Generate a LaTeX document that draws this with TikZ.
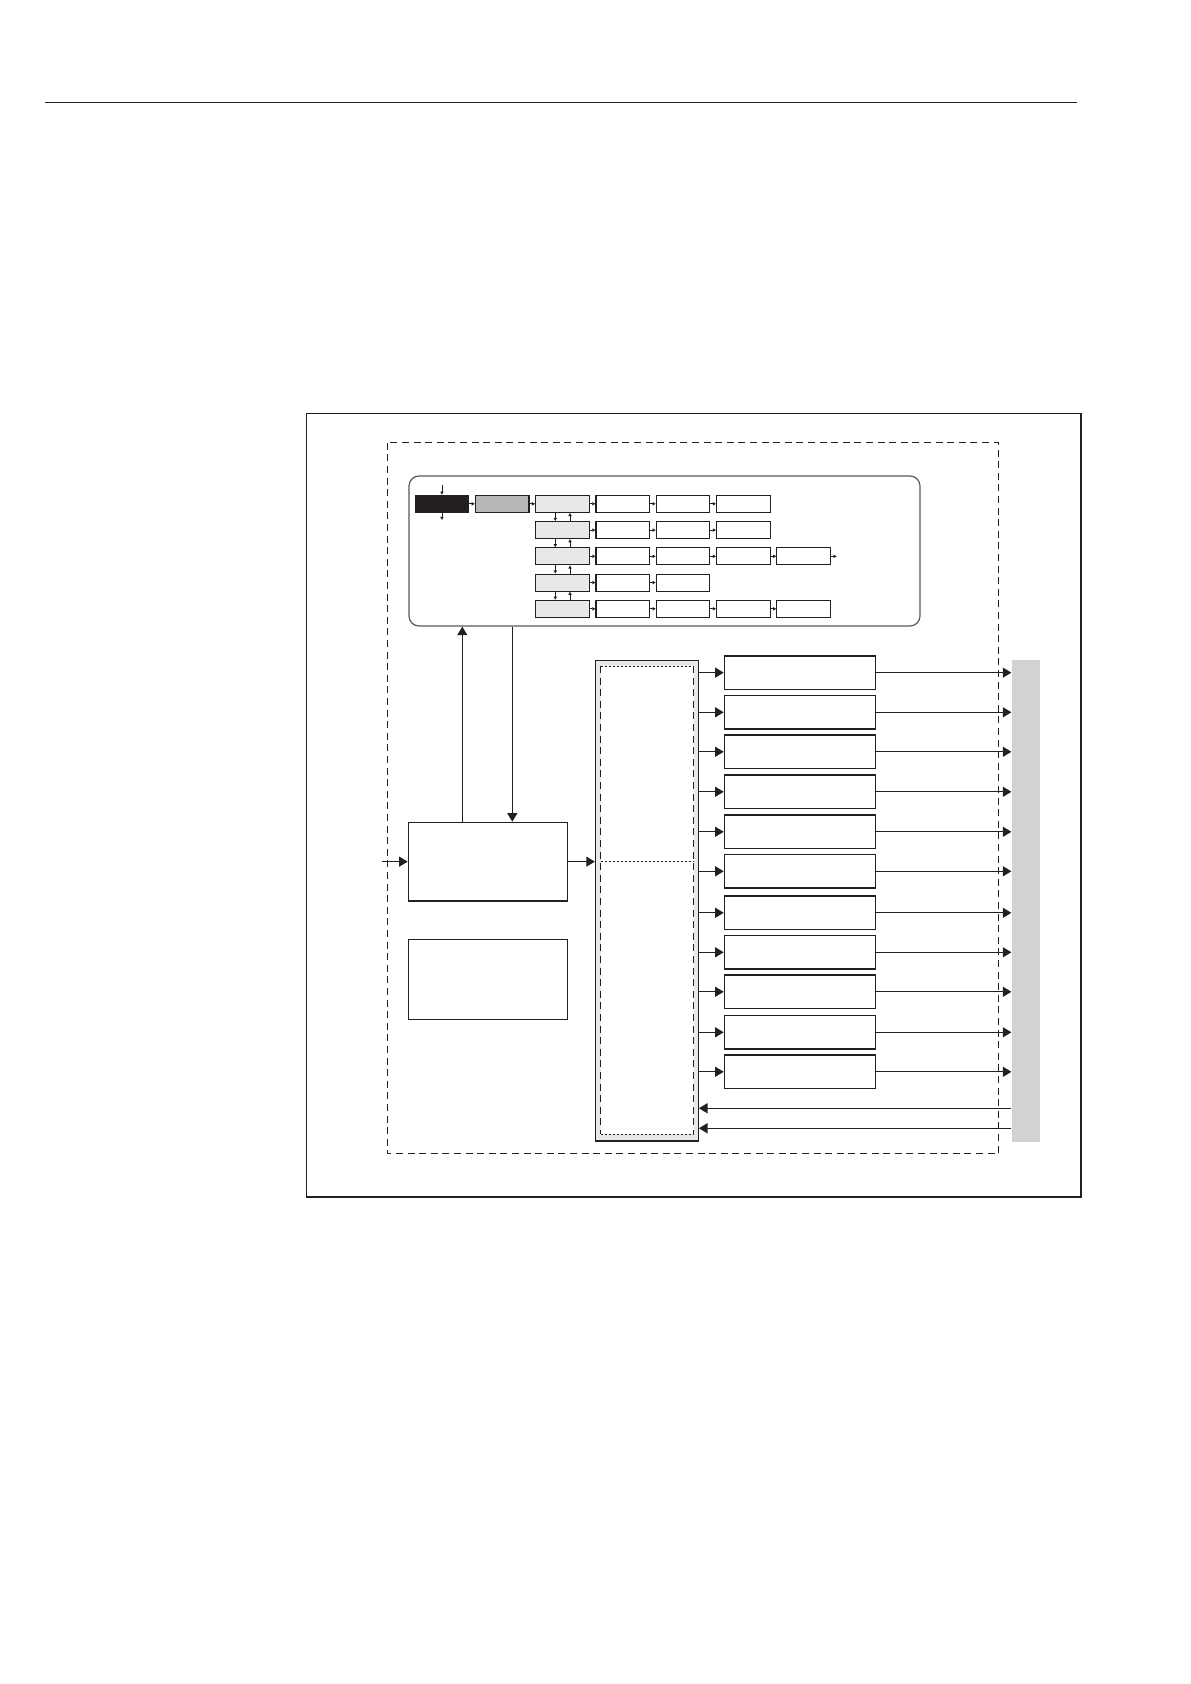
\documentclass[tikz,border=0pt]{standalone}
\usetikzlibrary{arrows.meta,calc}
\definecolor{ink}{HTML}{231F20}
\definecolor{lgray}{HTML}{E8E8E8}
\definecolor{mgray}{HTML}{B8B8B8}
\definecolor{bargray}{HTML}{D2D2D2}
\begin{document}
\begin{tikzpicture}[x=0.5pt,y=-0.5pt,line width=0.6pt,color=ink,
  sbox/.style={draw=ink,line width=0.55pt,inner sep=0,minimum width=26.8pt,minimum height=8.5pt},
  rbox/.style={draw=ink,line width=0.6pt,inner sep=0,minimum width=75.5pt,minimum height=16.75pt},
  bbox/.style={draw=ink,line width=0.6pt,inner sep=0,minimum width=79.7pt},
  arr/.style={-{Triangle[length=4.3pt,width=5pt]},draw=ink,line width=0.6pt},
  tarr/.style={-{Triangle[length=1.6pt,width=1.6pt]},draw=ink,line width=0.4pt},
  odash/.style={draw=ink,line width=0.5pt,dash pattern=on 3.5pt off 2.3pt},
  fdot/.style={draw=ink,line width=0.5pt,dash pattern=on 1pt off 1pt}]
\useasboundingbox (0,0) rectangle (1190,1684);
% header rule
\draw[line width=0.7pt] (45,102.3) -- (1076.7,102.3);
% outer frame
\draw[line width=0.7pt] (306.3,413.7) rectangle (1081,1197);
% dashed boundary
\draw[odash] (387.3,442.7) rectangle (998.3,1153.3);
% menu box
\node[draw=black!65,rounded corners=5pt,line width=0.6pt,inner sep=0,minimum width=255.5pt,minimum height=75pt] (menu) at (664.5,551) {};
% row 1
\node[sbox,fill=ink] (k) at (441.9,503.8) {};
\node[sbox,fill=mgray] (g) at (502.2,503.8) {};
\node[sbox,fill=lgray] (l1) at (562.5,503.8) {};
\node[sbox] (a1) at (622.8,503.8) {};
\node[sbox] (b1) at (683.1,503.8) {};
\node[sbox] (c1) at (743.4,503.8) {};
% row 2
\node[sbox,fill=lgray] (l2) at (562.5,530.05) {};
\node[sbox] (a2) at (622.8,530.05) {};
\node[sbox] (b2) at (683.1,530.05) {};
\node[sbox] (c2) at (743.4,530.05) {};
% row 3
\node[sbox,fill=lgray] (l3) at (562.5,556.3) {};
\node[sbox] (a3) at (622.8,556.3) {};
\node[sbox] (b3) at (683.1,556.3) {};
\node[sbox] (c3) at (743.4,556.3) {};
\node[sbox] (d3) at (803.7,556.3) {};
\coordinate (e3) at (836.7,556.3);
% row 4
\node[sbox,fill=lgray] (l4) at (562.5,582.55) {};
\node[sbox] (a4) at (622.8,582.55) {};
\node[sbox] (b4) at (683.1,582.55) {};
% row 5
\node[sbox,fill=lgray] (l5) at (562.5,608.8) {};
\node[sbox] (a5) at (622.8,608.8) {};
\node[sbox] (b5) at (683.1,608.8) {};
\node[sbox] (c5) at (743.4,608.8) {};
\node[sbox] (d5) at (803.7,608.8) {};
% horizontal small arrows
\foreach \u/\v in {k/g,g/l1,l1/a1,a1/b1,b1/c1,l2/a2,a2/b2,b2/c2,l3/a3,a3/b3,b3/c3,c3/d3,d3/e3,l4/a4,a4/b4,l5/a5,a5/b5,b5/c5,c5/d5}
  \draw[tarr] (\u) -- (\v);
% black box arrows
\coordinate (kin) at (441.9,485);
\coordinate (kout) at (441.9,520);
\draw[tarr] (kin) -- (k.north);
\draw[tarr] (k.south) -- (kout);
% vertical arrows
\foreach \i/\j in {1/2,2/3,3/4,4/5}{
  \draw[tarr] ([xshift=-3.6pt]l\i.south) -- ([xshift=-3.6pt]l\j.north);
  \draw[tarr] ([xshift=3.75pt]l\j.north) -- ([xshift=3.75pt]l\i.south);
}
% boxes A and B
\node[bbox,minimum height=39.35pt] (A) at (488,861.65) {};
\node[bbox,minimum height=40pt] (B) at (488,979.3) {};
\draw[arr] ([xshift=-12.85pt]A.north) -- ([xshift=-12.85pt]A.north |- menu.south);
\draw[arr] ([xshift=12.15pt]A.north |- menu.south) -- ([xshift=12.15pt]A.north);
\coordinate (in) at (382.3,861.65);
\draw[arr] (in) -- (A.west);
% tall box
\node[draw=ink,fill=lgray,line width=0.6pt,inner sep=0,minimum width=51.4pt,minimum height=240.35pt] (T) at (646.9,900.65) {};
\fill[white] (600.5,666) rectangle (693.7,1134.3);
\draw[odash] (600.5,666) -- (600.5,1134.3);
\draw[odash] (693.7,666) -- (693.7,1134.3);
\draw[fdot] (600.5,666) -- (693.7,666);
\draw[fdot] (600.5,1134.3) -- (693.7,1134.3);
\draw[fdot] (600.5,861.65) -- (693.7,861.65);
\draw[arr] (A.east) -- (A.east -| T.west);
% gray bar
\node[fill=bargray,inner sep=0,minimum width=14pt,minimum height=240.85pt] (bar) at (1026,900.85) {};
% right boxes
\foreach \i/\y in {1/672.65,2/712.3,3/751.8,4/791.8,5/831.8,6/871.3,7/912.8,8/952.3,9/991.8,10/1032.3,11/1071.8}{
  \node[rbox] (r\i) at (799.8,\y) {};
  \draw[arr] (T.east |- r\i.west) -- (r\i.west);
  \draw[arr] (r\i.east) -- (r\i.east -| bar.west);
}
% back arrows
\coordinate (bk1) at ([yshift=-103.7pt]bar.west);
\coordinate (bk2) at ([yshift=-113.7pt]bar.west);
\draw[arr] (bk1) -- (bk1 -| T.east);
\draw[arr] (bk2) -- (bk2 -| T.east);
\end{tikzpicture}
\end{document}
